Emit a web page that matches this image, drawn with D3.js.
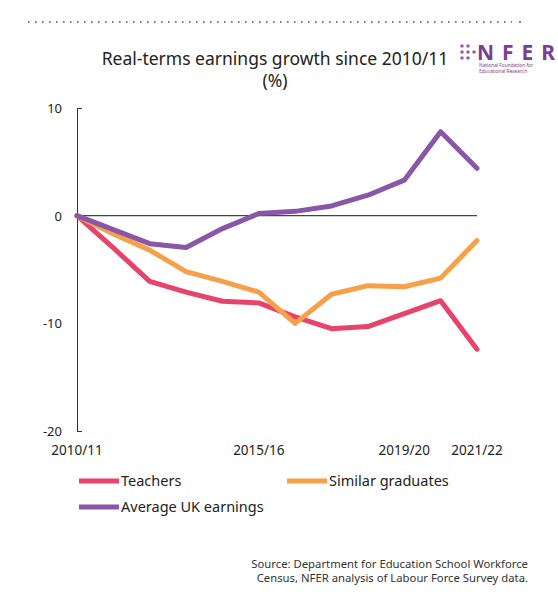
<!DOCTYPE html><html><head><meta charset="utf-8">
<script src="https://cdn.jsdelivr.net/npm/d3@7"></script>
<style>body{margin:0;background:#fff}text{font-family:"Noto Sans",sans-serif}</style></head><body>
<svg id="c" width="558" height="600"></svg>
<script>
const years=["2010/11","2011/12","2012/13","2013/14","2014/15","2015/16","2016/17","2017/18","2018/19","2019/20","2020/21","2021/22"];
const tickYears=["2010/11","2015/16","2019/20","2021/22"];
const teachers=[0,-3,-6.1,-7.1,-7.95,-8.1,-9.4,-10.5,-10.3,-9.1,-7.9,-12.4];
const similar=[0,-1.7,-3.2,-5.2,-6.1,-7.1,-10,-7.3,-6.5,-6.6,-5.8,-2.3];
const average=[0,-1.3,-2.6,-2.95,-1.2,0.2,0.4,0.9,1.9,3.3,7.8,4.4];
const yTicks=[10,0,-10,-20];
const svg=d3.select("#c");
const x=d3.scalePoint().domain(years).range([77,477]);
const y=d3.scaleLinear().domain([-20,10]).range([431,108]);
svg.append("line").attr("x1",28).attr("x2",512).attr("y1",22).attr("y2",22).attr("stroke","#555").attr("stroke-width",1.6).attr("stroke-dasharray","1.6 5.4");
svg.append("circle").attr("cx",520).attr("cy",22).attr("r",1).attr("fill","#555");
svg.append("text").attr("x",275).attr("y",65).attr("text-anchor","middle").attr("font-size",17.5).attr("fill","#222").text("Real-terms earnings growth since 2010/11");
svg.append("text").attr("x",275).attr("y",87).attr("text-anchor","middle").attr("font-size",17.5).attr("fill","#222").text("(%)");
const lg=svg.append("g");
[[462,46],[468,46],[462,52],[468,52],[474,52],[462,58],[468,58]].forEach(p=>lg.append("circle").attr("cx",p[0]).attr("cy",p[1]).attr("r",1.8).attr("fill","#9b5fb0"));
lg.append("text").attr("x",477).attr("y",60).attr("font-size",21).attr("font-weight","bold").attr("fill","#7a3f93").attr("textLength",78).text("NFER");
lg.append("text").attr("x",479).attr("y",67).attr("font-size",4.8).attr("fill","#7a3f93").text("National Foundation for");
lg.append("text").attr("x",479).attr("y",73).attr("font-size",4.8).attr("fill","#7a3f93").text("Educational Research");
const ax=svg.append("g").attr("transform","translate(77,0)").call(d3.axisRight(y).tickValues([10,-20]).tickSize(5).tickFormat(""));
ax.select(".domain").attr("stroke","#333");ax.selectAll("line").attr("stroke","#333");
svg.selectAll(".yl").data(yTicks).join("text").attr("x",62).attr("y",d=>y(d)+5).attr("text-anchor","end").attr("font-size",13).attr("fill","#222").text(d=>d);
svg.append("line").attr("x1",77).attr("x2",477).attr("y1",y(0)).attr("y2",y(0)).attr("stroke","#444").attr("stroke-width",1.2);
svg.selectAll(".xl").data(tickYears).join("text").attr("x",d=>x(d)).attr("y",455).attr("text-anchor","middle").attr("font-size",13.5).attr("fill","#222").text(d=>d);
const line=d3.line().x((d,i)=>x(years[i])).y(d=>y(d));
const series=[["Teachers",teachers,"#e8436b"],["Similar graduates",similar,"#f7a04a"],["Average UK earnings",average,"#8a56a8"]];
series.forEach(s=>svg.append("path").attr("d",line(s[1])).attr("fill","none").attr("stroke",s[2]).attr("stroke-width",5).attr("stroke-linejoin","round").attr("stroke-linecap","round"));
const leg=[[79,481],[287,481],[79,507]];
series.forEach((s,i)=>{const [lx,ly]=leg[i];
svg.append("line").attr("x1",lx).attr("x2",lx+40).attr("y1",ly).attr("y2",ly).attr("stroke",s[2]).attr("stroke-width",5);
svg.append("text").attr("x",lx+42).attr("y",ly+5).attr("font-size",14.5).attr("fill","#222").text(s[0]);});
svg.append("text").attr("x",528).attr("y",568).attr("text-anchor","end").attr("font-size",11.3).attr("fill","#333").text("Source: Department for Education School Workforce");
svg.append("text").attr("x",528).attr("y",582).attr("text-anchor","end").attr("font-size",11.3).attr("fill","#333").text("Census, NFER analysis of Labour Force Survey data.");
</script></body></html>
